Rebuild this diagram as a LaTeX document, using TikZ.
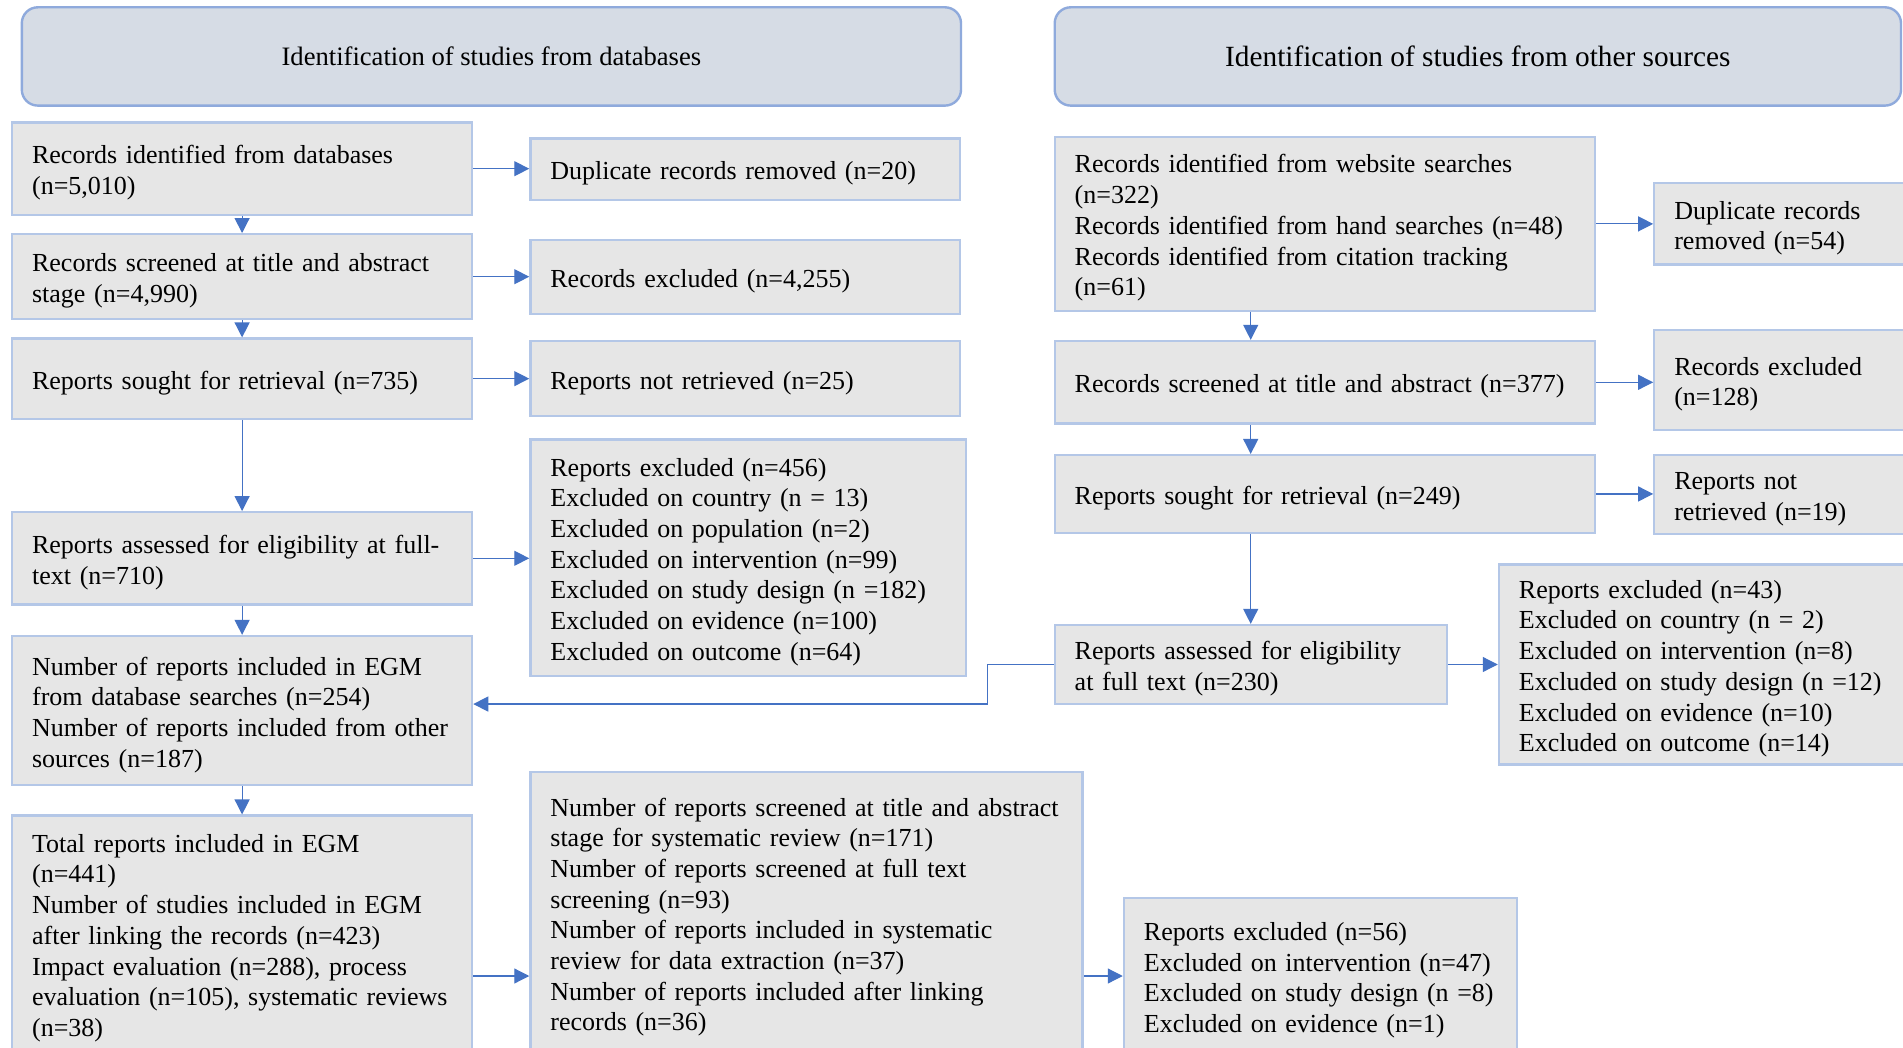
\documentclass[tikz,border=0pt]{standalone}
\usepackage{fontspec}
\setmainfont{Liberation Serif}
\usetikzlibrary{arrows.meta,calc}
\definecolor{boxfill}{HTML}{E6E6E6}
\definecolor{boxline}{HTML}{B4C7E7}
\definecolor{headfill}{HTML}{D6DCE5}
\definecolor{headline}{HTML}{8FAADC}
\definecolor{arrowc}{HTML}{4472C4}
\begin{document}
\begin{tikzpicture}[x=1pt,y=-1pt,
  box/.style={draw=boxline, fill=boxfill, line width=2.3pt, inner xsep=20pt, inner ysep=0pt,
    align=left, font=\fontsize{26}{30.7}\selectfont, anchor=center,
    execute at begin node={\hyphenpenalty=10000\exhyphenpenalty=10000\rule{0pt}{27pt}},
    execute at end node={\rule[-6pt]{0pt}{6pt}}},
  head/.style={draw=headline, fill=headfill, line width=2.4pt, rounded corners=16pt,
    align=center, inner sep=0pt, anchor=center},
  arr/.style={draw=arrowc, line width=1.2pt, -{Triangle[length=15pt,width=15pt]}}]
\clip (0,0) rectangle (1903,1048);
\fill[white] (0,0) rectangle (1903,1048);
% headers
\node[head, minimum width=939.2pt, minimum height=98.3pt, font=\fontsize{26.6}{30.7}\selectfont] (HL) at (491.4,56.45) {Identification of studies from databases};
\node[head, minimum width=846.3pt, minimum height=98.3pt, font=\fontsize{29.3}{33.7}\selectfont] (HR) at (1477.85,56.45) {Identification of studies from other sources};
% left column
\node[box, minimum width=460pt, minimum height=92.2pt, text width=420pt] (A1) at (242.1,168.7) {Records identified from databases\\(n=5,010)};
\node[box, minimum width=429.6pt, minimum height=61.9pt, text width=389.6pt] (A1r) at (745.2,169.35) {Duplicate records removed (n=20)};
\node[box, minimum width=460pt, minimum height=85pt, text width=420pt] (A2) at (242.1,276.7) {Records screened at title and abstract\\stage (n=4,990)};
\node[box, minimum width=429.6pt, minimum height=74pt, text width=389.6pt] (A2r) at (745.2,277.3) {Records excluded (n=4,255)};
\node[box, minimum width=460pt, minimum height=80.1pt, text width=420pt] (A3) at (242.1,378.65) {Reports sought for retrieval (n=735)};
\node[box, minimum width=429.6pt, minimum height=75.3pt, text width=389.6pt] (A3r) at (745.2,378.65) {Reports not retrieved (n=25)};
\node[box, minimum width=460pt, minimum height=92.2pt, text width=420pt] (A4) at (242.1,558.3) {\mbox{Reports assessed for eligibility at full-}\\text (n=710)};
\node[box, minimum width=435.7pt, minimum height=236.6pt, text width=395.7pt] (A4r) at (748.25,557.7) {Reports excluded (n=456)\\Excluded on country (n = 13)\\Excluded on population (n=2)\\Excluded on intervention (n=99)\\Excluded on study design (n =182)\\Excluded on evidence (n=100)\\Excluded on outcome (n=64)};
\node[box, minimum width=460pt, minimum height=149.3pt, text width=420pt] (A5) at (242.1,710.65) {Number of reports included in EGM\\from database searches (n=254)\\\mbox{Number of reports included from other}\\sources (n=187)};
\node[box, minimum width=460pt, minimum height=236.4pt, text width=420pt] (A6) at (242.1,933.8) {Total reports included in EGM\\(n=441)\\\mbox{Number of studies included in EGM}\\after linking the records (n=423)\\Impact evaluation (n=288), process\\\mbox{evaluation (n=105), systematic reviews}\\(n=38)};
\node[box, minimum width=552.2pt, minimum height=282pt, text width=512.2pt] (A6r) at (806.5,913) {\mbox{Number of reports screened at title and abstract}\\stage for systematic review (n=171)\\Number of reports screened at full text\\screening (n=93)\\Number of reports included in systematic\\review for data extraction (n=37)\\Number of reports included after linking\\records (n=36)};
\node[box, minimum width=393.2pt, minimum height=155.9pt, text width=353.2pt] (A7) at (1320.5,976) {Reports excluded (n=56)\\\mbox{Excluded on intervention (n=47)}\\\mbox{Excluded on study design (n =8)}\\Excluded on evidence (n=1)};
% right column
\node[box, minimum width=540.1pt, minimum height=173.6pt, text width=500.1pt] (B1) at (1324.75,223.9) {Records identified from website searches\\(n=322)\\\mbox{Records identified from hand searches (n=48)}\\Records identified from citation tracking\\(n=61)};
\node[box, minimum width=280.7pt, minimum height=81.3pt, text width=240.7pt] (B1r) at (1794.65,223.95) {Duplicate records\\removed (n=54)};
\node[box, minimum width=540.1pt, minimum height=82.6pt, text width=500.1pt] (B2) at (1324.75,382.3) {\mbox{Records screened at title and abstract (n=377)}};
\node[box, minimum width=280.7pt, minimum height=99.6pt, text width=240.7pt] (B2r) at (1794.65,379.9) {Records excluded\\(n=128)};
\node[box, minimum width=540.1pt, minimum height=77.7pt, text width=500.1pt] (B3) at (1324.75,493.95) {Reports sought for retrieval (n=249)};
\node[box, minimum width=280.7pt, minimum height=78.9pt, text width=240.7pt] (B3r) at (1794.65,494.55) {Reports not\\retrieved (n=19)};
\node[box, minimum width=392pt, minimum height=79pt, text width=352pt] (B4) at (1250.7,664.5) {Reports assessed for eligibility\\at full text (n=230)};
\node[box, minimum width=436.1pt, minimum height=200.2pt, text width=396.1pt] (B4r) at (1716.95,664.5) {Reports excluded (n=43)\\Excluded on country (n = 2)\\Excluded on intervention (n=8)\\Excluded on study design (n =12)\\Excluded on evidence (n=10)\\Excluded on outcome (n=14)};
% connectors left
\draw[arr] (A1.east) -- (A1.east -| A1r.west);
\draw[arr] (A2.east) -- (A2.east -| A2r.west);
\draw[arr] (A3.east) -- (A3.east -| A3r.west);
\draw[arr] (A4.east) -- (A4.east -| A4r.west);
\draw[arr] (A1.south) -- (A2.north);
\draw[arr] (A2.south) -- (A3.north);
\draw[arr] (A3.south) -- (A4.north);
\draw[arr] (A4.south) -- (A5.north);
\draw[arr] (A5.south) -- (A6.north);
\draw[arr] (A6.east |- A7.west) -- (A6r.west |- A7.west);
\draw[arr] (A6r.east |- A7.west) -- (A7.west);
% connectors right
\draw[arr] (B1.east) -- (B1.east -| B1r.west);
\draw[arr] (B2.east) -- (B2.east -| B2r.west);
\draw[arr] (B3.east) -- (B3.east -| B3r.west);
\draw[arr] (B4.east) -- (B4.east -| B4r.west);
\draw[arr] (B1.south -| B4.north) -- (B2.north -| B4.north);
\draw[arr] (B2.south -| B4.north) -- (B3.north -| B4.north);
\draw[arr] (B3.south -| B4.north) -- (B4.north);
\draw[arr] (B4.west) -- ++(-66,0) |- ([yshift=6.6pt]A5.east);
\end{tikzpicture}
\end{document}
